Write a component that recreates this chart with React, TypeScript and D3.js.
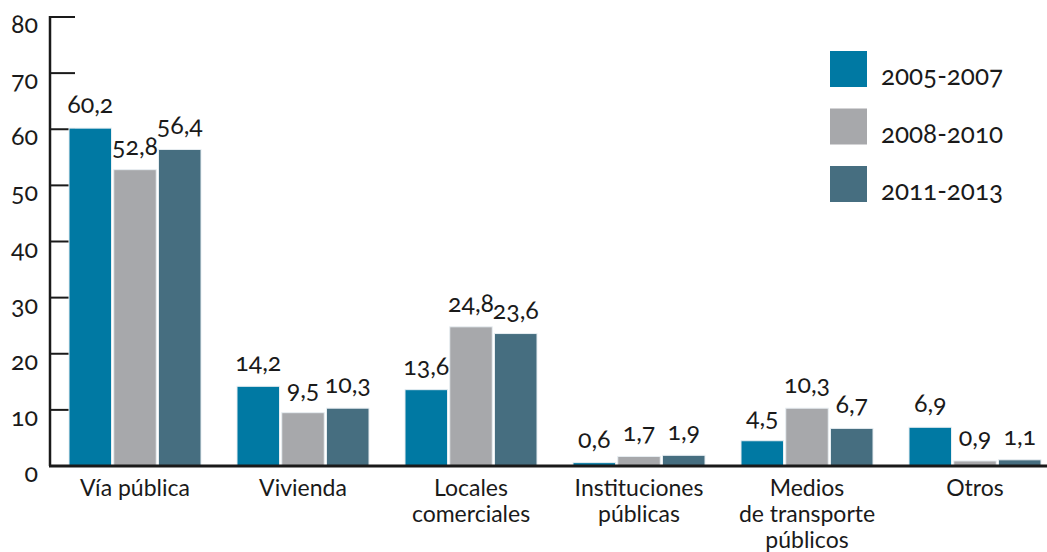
import React from "react";
import * as d3 from "d3";

const categories = [
  ["Vía pública"],
  ["Vivienda"],
  ["Locales", "comerciales"],
  ["Instituciones", "públicas"],
  ["Medios", "de transporte", "públicos"],
  ["Otros"],
];
const series = ["2005-2007", "2008-2010", "2011-2013"];
const values2005 = [60.2, 14.2, 13.6, 0.6, 4.5, 6.9];
const values2008 = [52.8, 9.5, 24.8, 1.7, 10.3, 0.9];
const values2011 = [56.4, 10.3, 23.6, 1.9, 6.7, 1.1];
const yTicks = [0, 10, 20, 30, 40, 50, 60, 70, 80];
const colors = ["#0079a3", "#a7a8ab", "#466e80"];

const width = 1047;
const height = 552;
const ink = "#1a1a1a";

// humanist sans with old-style figures, like the original
const txt = (size: number): React.CSSProperties => ({
  fontFamily: "Lato",
  fontSize: size,
  fontFeatureSettings: "'onum' 1",
  fill: ink,
});

const App = () => {
  const allValues = [values2005, values2008, values2011];
  const keys = categories.map((c) => c.join(" "));

  const y = d3.scaleLinear().domain([0, 80]).range([466, 17]);
  const x0 = d3
    .scaleBand()
    .domain(keys)
    .range([69, 1041])
    .paddingInner(36 / 168)
    .paddingOuter(0);
  const x1 = d3
    .scaleBand<number>()
    .domain([0, 1, 2])
    .range([0, x0.bandwidth()])
    .paddingInner(0.05);

  const fmt = (v: number) => d3.format(".1f")(v).replace(".", ",");

  return (
    <svg
      width={width}
      height={height}
      style={{ position: "absolute", left: 0, top: 0, background: "#fff" }}
    >
      {/* y axis */}
      <line x1={50} x2={50} y1={y(80) - 1} y2={y(0)} stroke={ink} strokeWidth={2.5} />
      {yTicks.map((t) => (
        <g key={t}>
          {t > 0 && (
            <line x1={50} x2={75} y1={y(t)} y2={y(t)} stroke={ink} strokeWidth={2} />
          )}
          <text x={38} y={y(t) + 16} textAnchor="end" style={txt(25)}>
            {t}
          </text>
        </g>
      ))}

      {/* bars */}
      {keys.map((k, i) => (
        <g key={k} transform={`translate(${x0(k)},0)`}>
          {allValues.map((vals, s) => (
            <rect
              key={s}
              x={x1(s)}
              y={y(vals[i])}
              width={x1.bandwidth()}
              height={y(0) - y(vals[i])}
              fill={colors[s]}
              stroke="#e8eef2"
              strokeWidth={1}
            />
          ))}
          {allValues.map((vals, s) => (
            <text
              key={"v" + s}
              x={x1(s)! + x1.bandwidth() / 2}
              y={y(vals[i]) - 15}
              textAnchor="middle"
              style={txt(25)}
            >
              {fmt(vals[i])}
            </text>
          ))}
          {categories[i].map((line, j) => (
            <text
              key={"c" + j}
              x={x0.bandwidth() / 2}
              y={496 + j * 26}
              textAnchor="middle"
              style={txt(23)}
            >
              {line}
            </text>
          ))}
        </g>
      ))}

      {/* baseline */}
      <line x1={49} x2={width} y1={y(0)} y2={y(0)} stroke={ink} strokeWidth={3} />

      {/* legend */}
      {series.map((s, i) => (
        <g key={s} transform={`translate(830,${51 + i * 57.5})`}>
          <rect width={37} height={36} fill={colors[i]} />
          <text x={51} y={34} style={txt(26)}>
            {s}
          </text>
        </g>
      ))}
    </svg>
  );
};

export default App;
